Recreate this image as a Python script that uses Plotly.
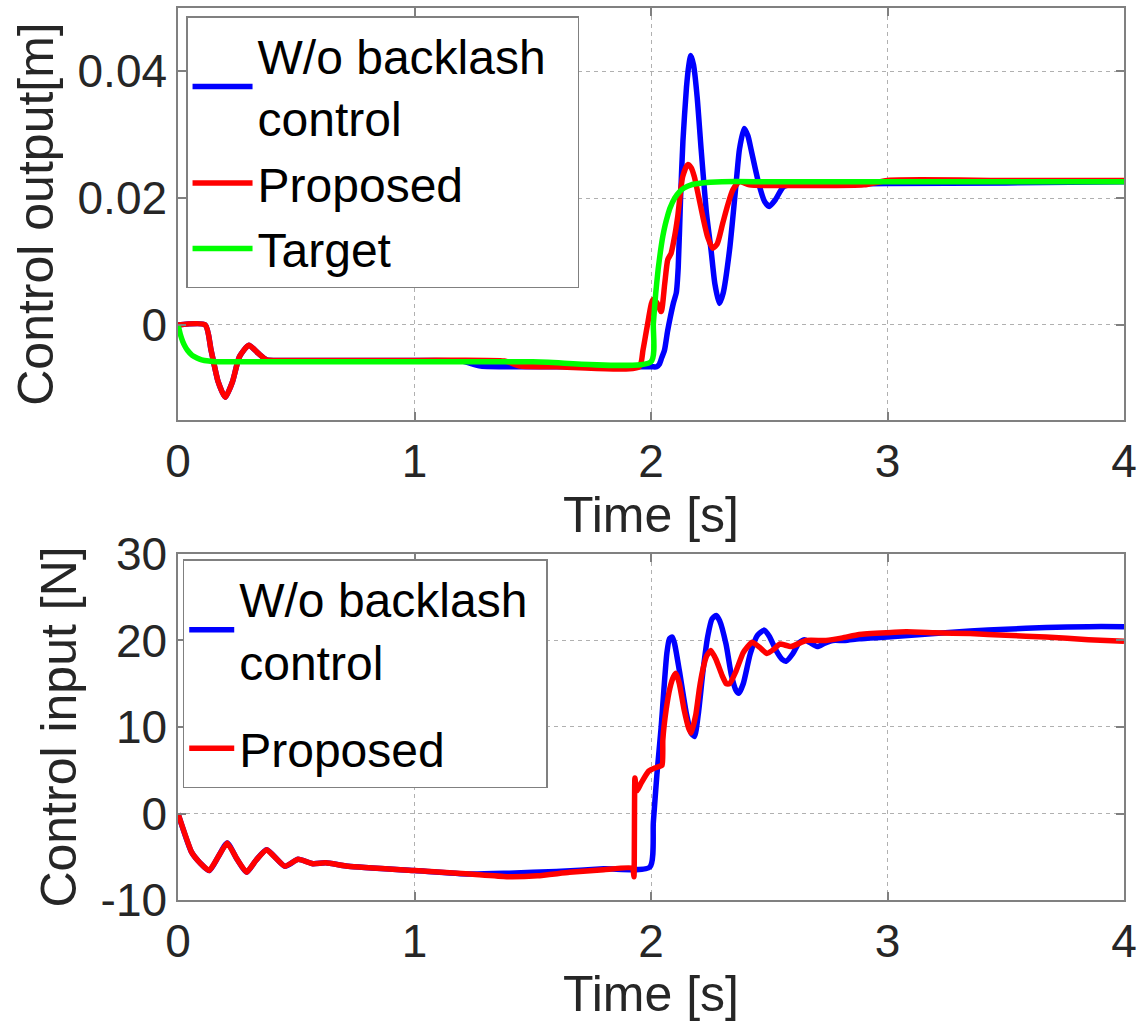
import plotly.graph_objects as go

# ---------------- Top plot: control output [m] ----------------
t_top_wo = [0, 0.115, 0.14, 0.17, 0.20, 0.23, 0.26, 0.30, 0.34, 0.375, 0.45, 1.0, 1.2, 1.28, 1.5,
            2.0, 2.024, 2.035, 2.045, 2.057, 2.07, 2.082, 2.095, 2.107, 2.115, 2.125, 2.135, 2.15,
            2.16, 2.168, 2.18, 2.195, 2.212, 2.235, 2.254, 2.27, 2.289, 2.305, 2.332, 2.36, 2.374,
            2.394, 2.41, 2.423, 2.455, 2.48, 2.50, 2.525, 2.56, 2.6, 2.7, 3.0, 3.5, 4.0]
y_top_wo = [0, 0, -0.004, -0.009, -0.0114, -0.009, -0.005, -0.0032, -0.0045, -0.0055, -0.0056,
            -0.0056, -0.0057, -0.0065, -0.0066,
            -0.0066, -0.0066, -0.0062, -0.0052, -0.004, -0.001, 0.0013, 0.0035, 0.0051, 0.009,
            0.020, 0.029, 0.0375,
            0.041, 0.0425, 0.041, 0.036, 0.0277, 0.0175, 0.0118, 0.0065, 0.0034, 0.005, 0.0118,
            0.0224, 0.0277,
            0.031, 0.0298, 0.0277, 0.0224, 0.0195, 0.0187, 0.0197, 0.0218, 0.0222, 0.0222, 0.0223,
            0.0224, 0.0226]

t_top_prop = [0, 0.115, 0.14, 0.17, 0.20, 0.23, 0.26, 0.30, 0.34, 0.375, 0.45, 1.0, 1.38, 1.45,
              1.6, 1.95, 1.966, 1.985, 2.008, 2.025, 2.043, 2.058, 2.071, 2.085, 2.10, 2.113, 2.134,
              2.155, 2.17, 2.183, 2.20, 2.219, 2.24, 2.261, 2.28, 2.303, 2.325, 2.346, 2.374, 2.416,
              2.6, 2.9, 3.0, 3.5, 4.0]
y_top_prop = [0, 0, -0.004, -0.009, -0.0114, -0.009, -0.005, -0.0032, -0.0045, -0.0055, -0.0056,
              -0.0056, -0.0057, -0.0065, -0.0066, -0.0066, -0.004, 0.0, 0.004, 0.0035, 0.0021,
              0.0065, 0.0103, 0.0113, 0.014, 0.0171, 0.0234,
              0.0253, 0.0248, 0.0234, 0.0205, 0.0171, 0.0138, 0.0121, 0.0128, 0.0160, 0.0190,
              0.0213, 0.0226, 0.0221,
              0.0220, 0.0221, 0.0228, 0.0228, 0.0228]

t_target = [0, 0.01, 0.02, 0.03, 0.04, 0.06, 0.08, 0.10, 0.13, 0.16, 0.20, 0.5, 1.0, 1.5, 2.0,
            2.01, 2.02, 2.03, 2.04, 2.05, 2.06, 2.07, 2.08, 2.10, 2.12, 2.14, 2.17, 2.20, 2.25,
            2.30, 2.5, 3.0, 4.0]
y_target = [0, -0.0015, -0.0026, -0.0034, -0.0040, -0.0048, -0.0052, -0.0055, -0.0057, -0.0058,
            -0.0058, -0.0058, -0.0058, -0.0058, -0.0058,
            0.0002, 0.0050, 0.0087, 0.0116, 0.0140, 0.0158, 0.0172, 0.0184, 0.0200, 0.0210,
            0.0216, 0.0221, 0.0223, 0.0225,
            0.0226, 0.0226, 0.0226, 0.0226]

# ---------------- Bottom plot: control input [N] ----------------
t_bot_wo = [0, 0.058, 0.093, 0.132, 0.17, 0.208, 0.25, 0.29, 0.33, 0.375, 0.452, 0.508, 0.57,
            0.625, 0.72, 1.0, 1.233, 1.4, 1.6, 1.8, 1.995,
            2.01, 2.025, 2.043, 2.055, 2.067, 2.078, 2.09, 2.10, 2.12, 2.15, 2.17, 2.184, 2.20,
            2.22, 2.24, 2.258, 2.275, 2.29, 2.317, 2.34, 2.36, 2.371, 2.39, 2.42, 2.45, 2.479,
            2.50, 2.53, 2.555, 2.571, 2.60, 2.625, 2.648, 2.67, 2.703, 2.735, 2.768, 2.82, 2.88,
            3.0, 3.2, 3.35, 3.5, 3.67, 3.85, 4.0]
y_bot_wo = [0, -4.5, -5.7, -6.6, -5.0, -3.4, -5.3, -6.8, -5.4, -4.2, -6.1, -5.3, -5.8,
            -5.7, -6.1, -6.6, -7.0, -6.9, -6.7, -6.4, -6.2,
            -1.0, 4.5, 10.0, 14.5, 18.5, 20.2, 20.4, 19.6, 16.5, 11.5, 9.3, 8.9, 11.5,
            16.5, 20.5, 22.5, 22.9, 22.3, 19.6, 16.0, 14.2, 13.9, 15.0, 18.5, 20.6, 21.2,
            20.5, 18.8, 17.8, 17.6, 18.5, 19.7, 20.1, 19.8, 19.3, 19.7, 20.0, 20.0, 20.2,
            20.4, 20.8, 21.1, 21.3, 21.5, 21.6, 21.6]

t_bot_prop = [0, 0.058, 0.093, 0.132, 0.17, 0.208, 0.25, 0.29, 0.33, 0.375, 0.452, 0.508, 0.57,
              0.625, 0.72, 1.0, 1.233, 1.39, 1.52, 1.655, 1.8, 1.922, 1.928, 1.932, 1.94, 1.96,
              1.99, 2.02, 2.047, 2.05, 2.064, 2.08, 2.095, 2.106, 2.12, 2.14, 2.16, 2.17, 2.19,
              2.205, 2.219, 2.235, 2.253, 2.275, 2.30, 2.318, 2.332, 2.36, 2.39, 2.427, 2.46,
              2.49, 2.52, 2.545, 2.592, 2.656, 2.74, 2.81, 2.88, 3.0, 3.08, 3.2, 3.35, 3.5,
              3.67, 3.85, 4.0]
y_bot_prop = [0, -4.5, -5.7, -6.6, -5.0, -3.4, -5.3, -6.8, -5.4, -4.2, -6.1, -5.3, -5.8,
              -5.7, -6.1, -6.6, -7.0, -7.3, -7.2, -6.8, -6.5, -6.3, -7.3, 4.1, 2.6, 3.6,
              4.9, 5.3, 5.6, 8.5, 12.0, 14.5, 15.8, 16.2, 15.0, 12.0, 9.8, 9.3, 11.5,
              14.5, 16.6, 18.2, 18.85, 17.8, 16.0, 15.0, 15.0, 16.5, 18.6, 19.8, 19.2,
              18.5, 19.0, 19.6, 19.3, 20.0, 20.0, 20.3, 20.7, 20.9, 21.0, 20.9, 20.8, 20.6,
              20.4, 20.1, 19.9]

x_ticks = [0, 1, 2, 3, 4]
y_top_ticks = [0, 0.02, 0.04]
y_top_ticktext = ["0", "0.02", "0.04"]
y_bot_ticks = [-10, 0, 10, 20, 30]
y_bot_ticktext = ["-10", "0", "10", "20", "30"]

BLUE, RED, GREEN = "#0000ff", "#ff0000", "#00ff00"
FONT = "Liberation Sans, Arial, Helvetica, sans-serif"
TXT = "#262626"
LW = 5.5
NB = "\u00a0\u00a0"


def line(color, smooth=0.6):
    return dict(color=color, width=LW, shape="spline", smoothing=smooth)


fig = go.Figure()
fig.add_trace(go.Scatter(x=t_top_wo, y=y_top_wo, mode="lines", name="W/o backlash" + NB + "<br>control",
                         line=line(BLUE), xaxis="x", yaxis="y", legend="legend"))
fig.add_trace(go.Scatter(x=t_top_prop, y=y_top_prop, mode="lines", name="Proposed",
                         line=line(RED), xaxis="x", yaxis="y", legend="legend"))
fig.add_trace(go.Scatter(x=t_target, y=y_target, mode="lines", name="Target",
                         line=line(GREEN), xaxis="x", yaxis="y", legend="legend"))
fig.add_trace(go.Scatter(x=t_bot_wo, y=y_bot_wo, mode="lines", name="W/o backlash\u00a0<br>control",
                         line=line(BLUE), xaxis="x2", yaxis="y2", legend="legend2",
                         legendgroup="b1"))
fig.add_trace(go.Scatter(x=t_bot_prop, y=y_bot_prop, mode="lines", name="Proposed",
                         line=line(RED, 0.4), xaxis="x2", yaxis="y2", legend="legend2",
                         legendgroup="b2"))

axis_common = dict(
    showline=True, linecolor="#808080", linewidth=1.5, mirror="ticks",
    ticks="inside", ticklen=8, tickcolor="#808080", tickwidth=1.5,
    showgrid=True, gridcolor="#b0b0b0", gridwidth=1, griddash="4px,4px",
    zeroline=False, tickfont=dict(family=FONT, size=46, color=TXT),
    title_font=dict(family=FONT, size=50, color=TXT), automargin=False,
)

legend_common = dict(
    xanchor="left", yanchor="top", xref="paper", yref="paper",
    bgcolor="white", bordercolor="#808080", borderwidth=1.5,
    font=dict(family=FONT, size=48, color="black"), valign="middle",
)

fig.update_layout(
    width=1146, height=1022,
    margin=dict(l=178, r=22, t=8, b=122),
    paper_bgcolor="white", plot_bgcolor="white",
    font=dict(family=FONT, color=TXT),
    xaxis=dict(domain=[0, 1], range=[0, 4], tickvals=x_ticks, anchor="y",
               title=dict(text="Time [s]", standoff=2), **axis_common),
    yaxis=dict(domain=[0.5381, 1], range=[-0.015, 0.05], tickvals=y_top_ticks,
               ticktext=y_top_ticktext, anchor="x",
               title=dict(text="Control output[m]", standoff=8), **axis_common),
    xaxis2=dict(domain=[0, 1], range=[0, 4], tickvals=x_ticks, anchor="y2",
                title=dict(text="Time [s]", standoff=2), **axis_common),
    yaxis2=dict(domain=[0, 0.3879], range=[-10, 30], tickvals=y_bot_ticks,
                ticktext=y_bot_ticktext, anchor="x2",
                title=dict(text="Control input [N]", standoff=8), **axis_common),
    legend=dict(x=0.0085, y=0.991, tracegroupgap=0, itemwidth=60, **legend_common),
    legend2=dict(x=0.005, y=0.382, tracegroupgap=22, itemwidth=45, **legend_common),
    showlegend=True,
)

fig.write_html("out.html")
